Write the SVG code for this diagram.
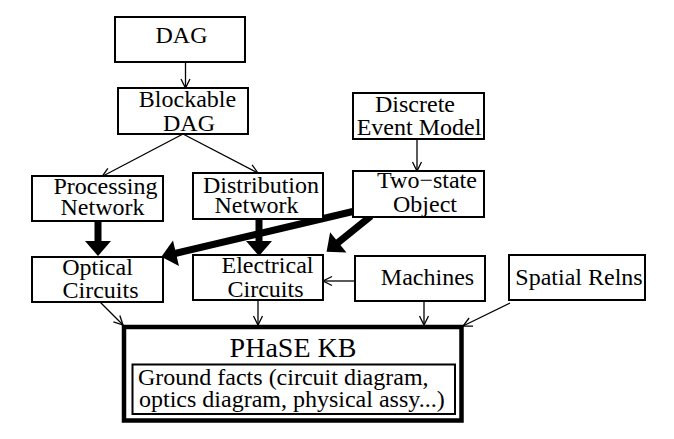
<svg xmlns="http://www.w3.org/2000/svg" width="674" height="439" viewBox="0 0 674 439">
<style>
.box{fill:#fff;stroke:#000;stroke-width:2}
.t{font-family:'Liberation Serif','Times New Roman',serif;font-size:24px;fill:#000;stroke:none;text-anchor:middle}
.big{font-size:28px}
.s{text-anchor:start}
.thin{stroke:#000;stroke-width:1.3;fill:none;marker-end:url(#open)}
.thick{stroke:#000;stroke-width:7;fill:none;marker-end:url(#solid)}
</style>
<defs>
<marker id="open" markerUnits="userSpaceOnUse" markerWidth="12" markerHeight="12" refX="9" refY="4.5" orient="auto" overflow="visible">
<path d="M0,0 L9,4.5 L0,9" fill="none" stroke="#000" stroke-width="1.3"/>
</marker>
<marker id="solid" markerUnits="userSpaceOnUse" markerWidth="16" markerHeight="26" refX="1" refY="13" orient="auto" overflow="visible">
<path d="M0,0 L15,13 L0,26 z" fill="#000"/>
</marker>
</defs>
<rect width="674" height="439" fill="#fff"/>
<g id="connectors">
<line class="thin" x1="185.5" y1="62" x2="185.5" y2="88"/>
<line class="thin" x1="183" y1="134" x2="102" y2="176.5"/>
<line class="thin" x1="183" y1="134" x2="258" y2="173"/>
<line class="thin" x1="417" y1="139" x2="417" y2="171"/>
<line class="thin" x1="355" y1="281" x2="323" y2="281"/>
<line class="thin" x1="100" y1="302" x2="123" y2="325"/>
<line class="thin" x1="258" y1="300" x2="258" y2="325"/>
<line class="thin" x1="424" y1="301" x2="424" y2="325"/>
<line class="thin" x1="510" y1="303" x2="463" y2="326"/>
<line class="thick" x1="98" y1="221" x2="98" y2="242"/>
<line class="thick" x1="259" y1="219" x2="259" y2="242"/>
<line class="thick" x1="355" y1="211" x2="175" y2="253.5"/>
<line class="thick" x1="371" y1="216" x2="337.5" y2="243"/>
</g>
<g id="dag"><rect class="box" x="115" y="17" width="130" height="45"/><text class="t" x="181.5" y="43">DAG</text></g>
<g id="blockable"><rect class="box" x="118" y="88" width="130" height="46"/><text class="t" x="187.5" y="107">Blockable</text><text class="t" x="189" y="131">DAG</text></g>
<g id="processing"><rect class="box" x="32" y="176" width="131" height="45"/><text class="t" x="105.5" y="194">Processing</text><text class="t" x="102.5" y="215">Network</text></g>
<g id="distribution"><rect class="box" x="193" y="173" width="130" height="46"/><text class="t" x="261" y="193">Distribution</text><text class="t" x="256.5" y="213">Network</text></g>
<g id="discrete"><rect class="box" x="353" y="93" width="131" height="46"/><text class="t" x="415" y="112">Discrete</text><text class="t" x="419" y="135">Event Model</text></g>
<g id="twostate"><rect class="box" x="353" y="171" width="131" height="46"/><text class="t" x="427" y="188">Two−state</text><text class="t" x="425" y="212">Object</text></g>
<g id="optical"><rect class="box" x="32" y="257" width="131" height="45"/><text class="t" x="97.5" y="275">Optical</text><text class="t" x="100.5" y="298">Circuits</text></g>
<g id="electrical"><rect class="box" x="193" y="255" width="130" height="45"/><text class="t" x="267.5" y="273">Electrical</text><text class="t" x="265.5" y="297">Circuits</text></g>
<g id="machines"><rect class="box" x="355" y="256" width="130" height="45"/><text class="t" x="427.5" y="285">Machines</text></g>
<g id="spatial"><rect class="box" x="509" y="255" width="136" height="45"/><text class="t" x="579" y="285">Spatial Relns</text></g>
<g id="kb">
<rect x="124" y="327" width="337.5" height="93.5" fill="#fff" stroke="#000" stroke-width="4.5"/>
<text class="t big" x="293" y="357">PHaSE KB</text>
<rect class="box" x="132.5" y="364.5" width="322.5" height="49.5"/>
<text class="t s" x="138" y="385">Ground facts (circuit diagram,</text>
<text class="t s" x="139" y="407">optics diagram, physical assy...)</text>
</g>
</svg>
